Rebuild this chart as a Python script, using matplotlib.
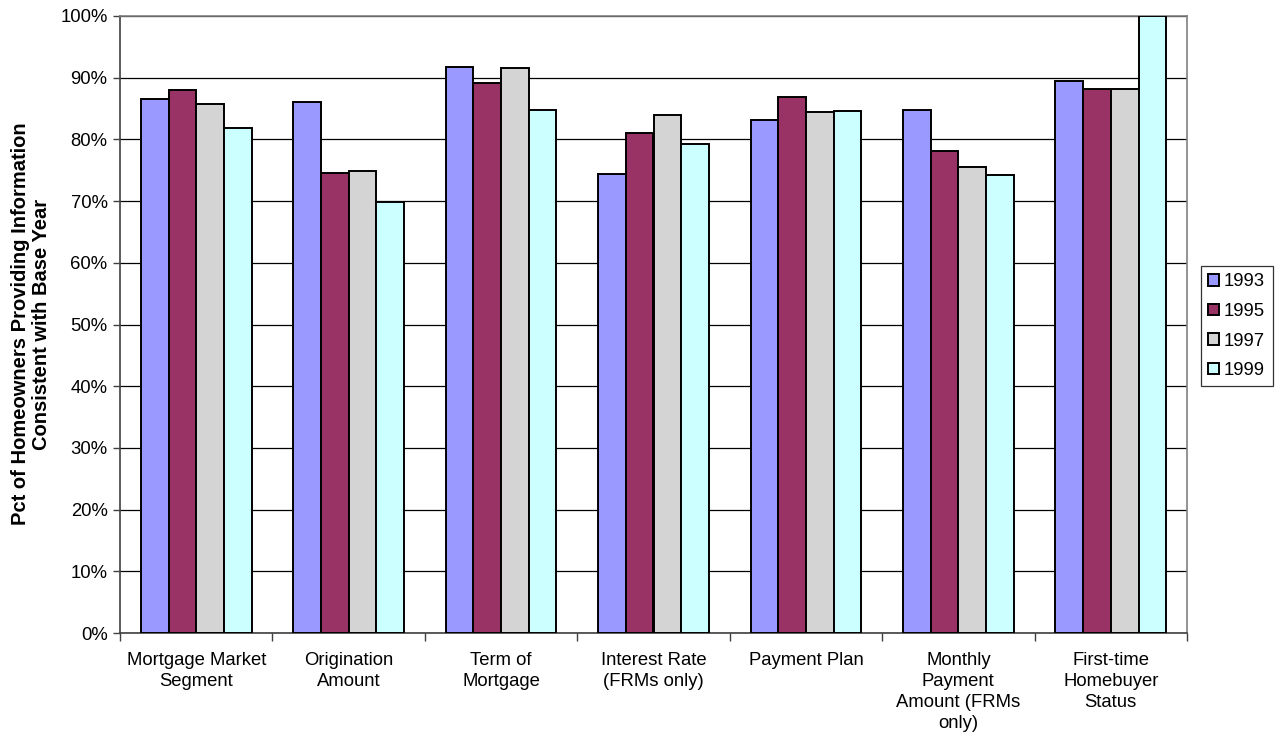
import matplotlib
matplotlib.use("Agg")
import matplotlib.pyplot as plt
import numpy as np
from matplotlib.ticker import FuncFormatter, FixedLocator

plt.rcParams['font.family'] = ['Liberation Sans', 'DejaVu Sans']

categories = ["Mortgage Market\nSegment", "Origination\nAmount", "Term of\nMortgage",
              "Interest Rate\n(FRMs only)", "Payment Plan",
              "Monthly\nPayment\nAmount (FRMs\nonly)", "First-time\nHomebuyer\nStatus"]
years = ["1993", "1995", "1997", "1999"]
v1993 = [86.5, 86.1, 91.7, 74.4, 83.1, 84.8, 89.4]
v1995 = [88.0, 74.6, 89.1, 81.0, 86.8, 78.2, 88.1]
v1997 = [85.7, 74.8, 91.5, 83.9, 84.4, 75.5, 88.1]
v1999 = [81.9, 69.8, 84.7, 79.3, 84.6, 74.2, 100.0]
series = [v1993, v1995, v1997, v1999]
colors = ["#9999FF", "#993366", "#D4D4D4", "#CCFFFF"]

fig = plt.figure(figsize=(12.76, 7.45), dpi=100)
ax = fig.add_axes([120/1276, 1 - 633/745, (1187-120)/1276, (633-16)/745])

x = np.arange(len(categories))
w = 1/5.5
for i, (vals, c, lab) in enumerate(zip(series, colors, years)):
    ax.bar(x + (i - 1.5) * w, vals, width=w, color=c, edgecolor="black",
           linewidth=1.4, label=lab, zorder=3)

ax.set_xlim(-0.5, len(categories) - 0.5)
ax.set_ylim(0, 100)
ax.set_yticks(np.arange(0, 101, 10))
ax.yaxis.set_major_formatter(FuncFormatter(lambda v, p: f"{int(v)}%"))
ax.yaxis.grid(True, color="black", linewidth=0.9, zorder=0)
ax.set_axisbelow(True)

ax.set_xticks(x)
ax.set_xticklabels(categories, fontsize=13.3, linespacing=1.3)
ax.tick_params(axis="x", length=0, pad=14)
ax.xaxis.set_minor_locator(FixedLocator(np.arange(-0.5, len(categories), 1.0)))
ax.tick_params(axis="x", which="minor", length=6, width=1, color="#404040", direction="out")
ax.tick_params(axis="y", labelsize=13.3, length=5, width=1, color="#404040", direction="out", pad=4)

for s in ["top", "right", "left"]:
    ax.spines[s].set_color("#808080")
    ax.spines[s].set_linewidth(1.2)
ax.spines["left"].set_color("#404040")
ax.spines["bottom"].set_color("#404040")
ax.spines["bottom"].set_linewidth(1.2)

fig.text(31/1276, 1 - 324/745, "Pct of Homeowners Providing Information\nConsistent with Base Year",
         rotation=90, ha="center", va="center", fontsize=14.5, fontweight="bold", linespacing=1.1)

leg = ax.legend(loc="upper left", bbox_to_anchor=(1201/1276, 1 - 266/745),
                bbox_transform=fig.transFigure, frameon=True, fancybox=False,
                edgecolor="black", fontsize=13.3, handlelength=0.6, handleheight=0.6,
                handletextpad=0.25, borderpad=0.4, labelspacing=0.68, borderaxespad=0)
leg.get_frame().set_linewidth(0.9)

fig.savefig("out.png", dpi=100)
